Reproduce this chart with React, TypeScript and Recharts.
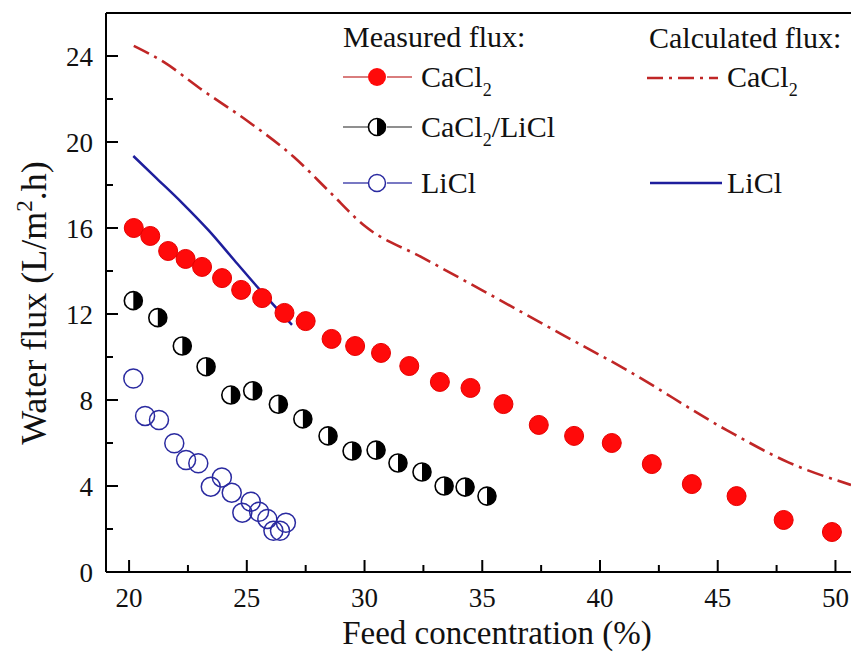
import React from 'react';
import { ScatterChart, Scatter, XAxis, YAxis, ReferenceLine } from 'recharts';

const FONT = '"Liberation Serif", "Times New Roman", serif';

// Measured flux: CaCl2
const measCaCl2X = [20.2, 20.9, 21.66, 22.4, 23.1, 23.95, 24.76, 25.65, 26.6, 27.5, 28.6, 29.6, 30.7, 31.9, 33.2, 34.5, 35.9, 37.4, 38.9, 40.5, 42.2, 43.9, 45.8, 47.8, 49.85];
const measCaCl2Y = [16.0, 15.63, 14.93, 14.56, 14.19, 13.67, 13.12, 12.74, 12.05, 11.67, 10.84, 10.51, 10.19, 9.58, 8.84, 8.56, 7.81, 6.84, 6.33, 6.0, 5.02, 4.09, 3.53, 2.42, 1.86];

// Measured flux: CaCl2/LiCl
const measMixX = [20.18, 21.22, 22.26, 23.27, 24.32, 25.25, 26.34, 27.38, 28.45, 29.47, 30.49, 31.42, 32.44, 33.38, 34.27, 35.2];
const measMixY = [12.62, 11.83, 10.51, 9.55, 8.23, 8.43, 7.8, 7.12, 6.33, 5.63, 5.67, 5.07, 4.65, 4.0, 3.95, 3.53];

// Measured flux: LiCl
const measLiClX = [20.18, 20.68, 21.27, 21.92, 22.42, 22.94, 23.47, 23.94, 24.36, 24.81, 25.17, 25.52, 25.87, 26.13, 26.41, 26.66];
const measLiClY = [9.0, 7.26, 7.07, 5.99, 5.21, 5.06, 3.97, 4.4, 3.69, 2.76, 3.27, 2.8, 2.47, 1.92, 1.92, 2.29];

// Calculated flux: CaCl2
const calcCaCl2X = [20.2, 21.5, 23.0, 25.0, 27.0, 28.5, 30.0, 32.5, 35.0, 38.3, 41.13, 45.38, 48.0, 50.66];
const calcCaCl2Y = [24.47, 23.7, 22.5, 21.0, 19.3, 17.7, 16.1, 14.6, 13.1, 11.1, 9.4, 6.6, 5.1, 4.05];

// Calculated flux: LiCl
const calcLiClX = [20.18, 21.18, 22.27, 23.37, 24.47, 25.56, 26.92];
const calcLiClY = [19.35, 18.3, 17.15, 15.9, 14.5, 13.12, 11.49];

const xMajor = [20, 25, 30, 35, 40, 45, 50];
const xMinor = [22.5, 27.5, 32.5, 37.5, 42.5, 47.5];
const yMajor = [0, 4, 8, 12, 16, 20, 24];
const yMinor = [2, 6, 10, 14, 18, 22];

const zip = (xs: number[], ys: number[]) => xs.map((x, i) => ({ x, y: ys[i] }));

const dMeasCaCl2 = zip(measCaCl2X, measCaCl2Y);
const dMeasMix = zip(measMixX, measMixY);
const dMeasLiCl = zip(measLiClX, measLiClY);
const dCalcCaCl2 = zip(calcCaCl2X, calcCaCl2Y);
const dCalcLiCl = zip(calcLiClX, calcLiClY);

const RED = '#ff0a0a';
const DARKRED = '#c02626';
const BLUE = '#1e1e9c';
const OPENBLUE = '#2a2aa0';

const RedDot = (p: any) => <circle cx={p.cx} cy={p.cy} r={9.5} fill={RED} stroke="#e60000" strokeWidth={1} />;
const HalfDot = (p: any) => {
  const r = 9;
  return (
    <g>
      <circle cx={p.cx} cy={p.cy} r={r} fill="#fff" stroke="#000" strokeWidth={1.6} />
      <path d={`M ${p.cx} ${p.cy - r} A ${r} ${r} 0 0 1 ${p.cx} ${p.cy + r} Z`} fill="#000" />
    </g>
  );
};
const OpenDot = (p: any) => <circle cx={p.cx} cy={p.cy} r={9.5} fill="none" stroke={OPENBLUE} strokeWidth={1.5} />;
const NoDot = () => <g />;

const XTick = (props: any) => {
  const { x, y, payload } = props;
  const v = payload.value;
  const major = xMajor.includes(v);
  return (
    <g>
      <line x1={x} x2={x} y1={y} y2={y - (major ? 12 : 7)} stroke="#000" strokeWidth={2} />
      {major && (
        <text x={x} y={y + 35} textAnchor="middle" fontSize={27} fontFamily={FONT} fill="#111">
          {v}
        </text>
      )}
    </g>
  );
};

const YTick = (props: any) => {
  const { x, y, payload } = props;
  const v = payload.value;
  const major = yMajor.includes(v);
  return (
    <g>
      <line x1={x} x2={x + (major ? 12 : 7)} y1={y} y2={y} stroke="#000" strokeWidth={2} />
      {major && (
        <text x={x - 13} y={y + 9.5} textAnchor="end" fontSize={27} fontFamily={FONT} fill="#111">
          {v}
        </text>
      )}
    </g>
  );
};

const XTitle = (props: any) => {
  const vb = props.viewBox || { x: 106, y: 572 };
  return (
    <text x={vb.x + 391} y={vb.y + 72} textAnchor="middle" fontSize={33} fontFamily={FONT} fill="#111">
      Feed concentration (%)
    </text>
  );
};

const YTitle = () => {
  const cy = 303;
  const cx = 46;
  return (
    <text
      x={cx}
      y={cy}
      transform={`rotate(-90 ${cx} ${cy})`}
      textAnchor="middle"
      fontSize={36}
      fontFamily={FONT}
      fill="#111"
    >
      Water flux (L/m
      <tspan fontSize={23} dy={-14}>2</tspan>
      <tspan dy={14}>.h)</tspan>
    </text>
  );
};

const txt = { fontFamily: FONT, fontSize: 30, fill: '#111' } as const;

const LegendOverlay = () => (
  <svg width={851} height={653} style={{ position: 'absolute', left: 0, top: 0, pointerEvents: 'none' }}>
    <text x={343} y={47} {...txt}>Measured flux:</text>
    {/* CaCl2 measured */}
    <line x1={343} x2={368} y1={77} y2={77} stroke={DARKRED} strokeWidth={1.2} />
    <circle cx={377} cy={77} r={9} fill={RED} />
    <line x1={387} x2={412} y1={77} y2={77} stroke={DARKRED} strokeWidth={1.2} />
    <text x={421} y={87} {...txt}>
      CaCl<tspan fontSize={18} dy={9}>2</tspan>
    </text>
    {/* CaCl2/LiCl measured */}
    <line x1={343} x2={368} y1={127} y2={127} stroke="#444" strokeWidth={1.2} />
    <circle cx={377} cy={127} r={8.5} fill="#fff" stroke="#000" strokeWidth={1.6} />
    <path d={`M 377 118.5 A 8.5 8.5 0 0 1 377 135.5 Z`} fill="#000" />
    <line x1={387} x2={412} y1={127} y2={127} stroke="#444" strokeWidth={1.2} />
    <text x={421} y={137} {...txt}>
      CaCl<tspan fontSize={18} dy={9}>2</tspan>
      <tspan dy={-9}>/LiCl</tspan>
    </text>
    {/* LiCl measured */}
    <line x1={343} x2={368} y1={183} y2={183} stroke={BLUE} strokeWidth={1.2} />
    <circle cx={377} cy={183} r={8.5} fill="none" stroke={OPENBLUE} strokeWidth={1.5} />
    <line x1={387} x2={412} y1={183} y2={183} stroke={BLUE} strokeWidth={1.2} />
    <text x={421} y={193} {...txt}>LiCl</text>

    <text x={649} y={48} {...txt}>Calculated flux:</text>
    <line x1={647} x2={718} y1={78} y2={78} stroke={DARKRED} strokeWidth={2.5} strokeDasharray="16 6 3 6" />
    <text x={727} y={87} {...txt}>
      CaCl<tspan fontSize={18} dy={9}>2</tspan>
    </text>
    <line x1={650} x2={722} y1={183} y2={183} stroke={BLUE} strokeWidth={2.5} />
    <text x={727} y={193} {...txt}>LiCl</text>
  </svg>
);

export default function App() {
  const xTicks = [...xMajor, ...xMinor].sort((a, b) => a - b);
  const yTicks = [...yMajor, ...yMinor].sort((a, b) => a - b);
  return (
    <div style={{ position: 'absolute', left: 0, top: 0, width: 851, height: 653, overflow: 'hidden', background: '#fff' }}>
      <ScatterChart width={851} height={653} margin={{ top: 13, right: 0, bottom: 0, left: 0 }}>
        <XAxis
          type="number"
          dataKey="x"
          domain={[19.02, 50.66]}
          allowDataOverflow
          ticks={xTicks}
          interval={0}
          tickSize={0}
          tickMargin={0}
          tickLine={false}
          tick={<XTick />}
          height={81}
          axisLine={{ stroke: '#000', strokeWidth: 2 }}
          label={XTitle}
        />
        <YAxis
          type="number"
          dataKey="y"
          domain={[0, 26]}
          allowDataOverflow
          ticks={yTicks}
          interval={0}
          tickSize={0}
          tickMargin={0}
          tickLine={false}
          tick={<YTick />}
          width={106}
          axisLine={{ stroke: '#000', strokeWidth: 2 }}
          label={YTitle}
        />
        <ReferenceLine y={26} stroke="#000" strokeWidth={2} />
        <Scatter
          data={dCalcCaCl2}
          line={{ stroke: DARKRED, strokeWidth: 2.6, strokeDasharray: '17 6 3 6' }}
          lineJointType="monotoneX"
          shape={NoDot}
          isAnimationActive={false}
        />
        <Scatter
          data={dCalcLiCl}
          line={{ stroke: BLUE, strokeWidth: 2.5 }}
          lineJointType="monotoneX"
          shape={NoDot}
          isAnimationActive={false}
        />
        <Scatter data={dMeasCaCl2} shape={RedDot} isAnimationActive={false} />
        <Scatter data={dMeasMix} shape={HalfDot} isAnimationActive={false} />
        <Scatter data={dMeasLiCl} shape={OpenDot} isAnimationActive={false} />
      </ScatterChart>
      <LegendOverlay />
    </div>
  );
}
